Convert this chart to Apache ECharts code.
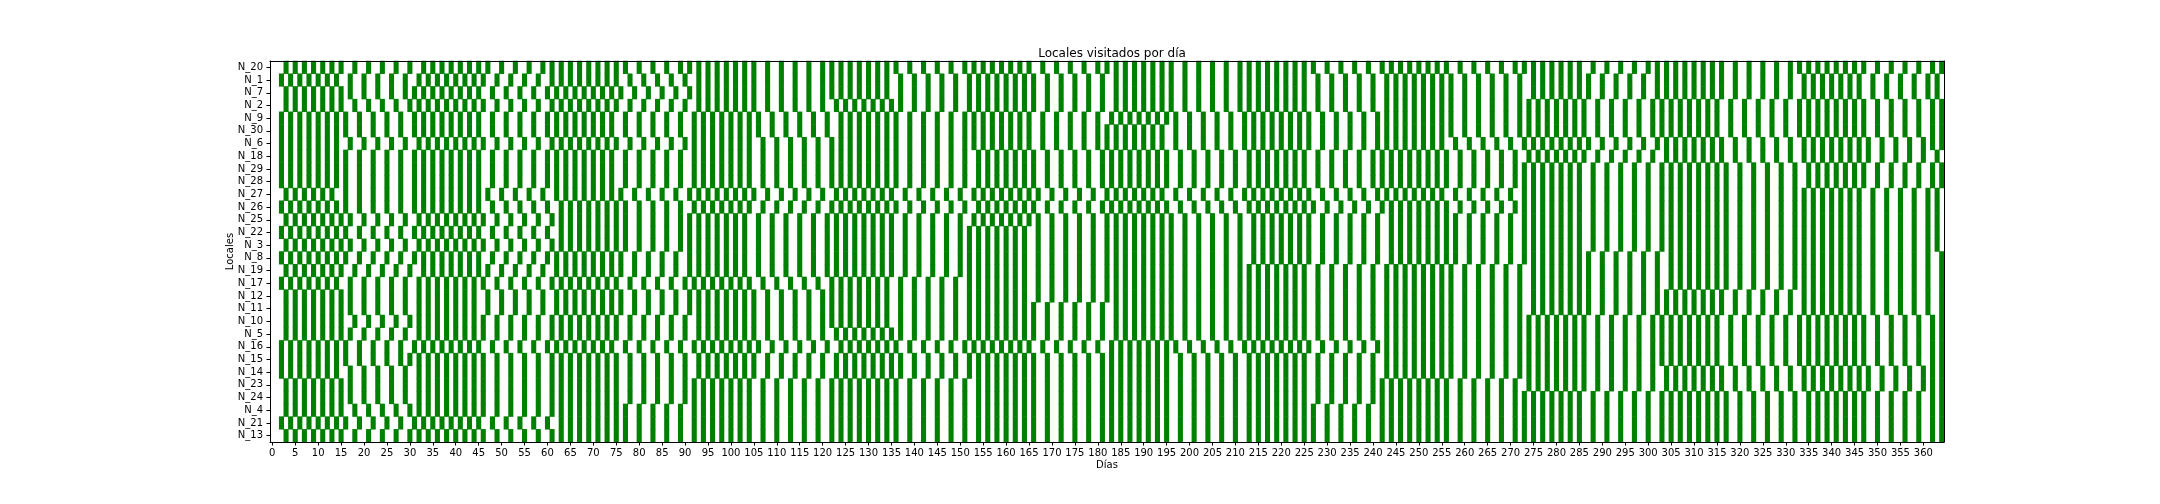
<!DOCTYPE html>
<html><head><meta charset="utf-8">
<script src="https://cdn.jsdelivr.net/npm/echarts@6/dist/echarts.min.js"></script>
<style>html,body{margin:0;padding:0;background:#fff}#c{width:2160px;height:504px}</style>
</head><body><div id="c"></div>
<script>
const locales = ['N_20','N_1','N_7','N_2','N_9','N_30','N_6','N_18','N_29','N_28','N_27','N_26','N_25','N_22','N_3','N_8','N_19','N_17','N_12','N_11','N_10','N_5','N_16','N_15','N_14','N_23','N_24','N_4','N_21','N_13'];
const dayCount = 365;
const dayLabels = Array.from({length: dayCount}, (_, i) => String(i));

// visited days per locale
const N_20 = [3,5,7,9,11,13,15,18,21,24,27,30,33,35,37,39,41,43,45,47,50,53,56,59,61,63,65,67,69,71,73,75,77,80,83,86,89,91,93,95,97,99,101,103,105,108,111,114,117,120,122,124,126,128,130,132,134,136,139,142,145,148,151,153,155,157,159,161,163,165,168,171,174,177,180,182,184,186,188,190,192,194,196,199,202,205,208,211,213,215,217,219,221,223,225,227,230,233,236,239,242,244,246,248,250,252,254,256,259,262,265,268,271,273,275,277,279,281,283,285,288,291,294,297,300,302,304,306,308,310,312,314,316,319,322,325,328,331,333,335,337,339,341,343,345,347,350,353,356,359,362,364];
const N_1 = [2,4,6,8,10,12,14,17,20,23,26,29,32,34,36,38,40,42,44,46,49,52,55,58,61,63,65,67,69,71,73,75,78,81,84,87,90,93,95,97,99,101,103,105,108,111,114,117,120,122,124,126,128,130,132,134,137,140,143,146,149,152,154,156,158,160,162,164,166,169,172,175,178,181,184,186,188,190,192,194,196,199,202,205,208,211,213,215,217,219,221,223,225,228,231,234,237,240,243,245,247,249,251,253,255,257,260,263,266,269,272,275,277,279,281,283,285,287,290,293,296,299,302,304,306,308,310,312,314,316,319,322,325,328,331,334,336,338,340,342,344,346,349,352,355,358,361,363];
const N_7 = [3,5,7,9,11,13,15,17,20,23,26,29,31,33,35,37,39,41,43,45,48,51,54,57,60,62,64,66,68,70,72,74,76,79,82,85,88,91,93,95,97,99,101,103,105,108,111,114,117,120,122,124,126,128,130,132,134,137,140,143,146,149,152,154,156,158,160,162,164,166,169,172,175,178,181,184,186,188,190,192,194,196,199,202,205,208,211,213,215,217,219,221,223,225,228,231,234,237,240,243,245,247,249,251,253,255,257,260,263,266,269,272,275,277,279,281,283,285,287,290,293,296,299,302,304,306,308,310,312,314,316,319,322,325,328,331,334,336,338,340,342,344,346,349,352,355,358,361,363];
const N_2 = [3,5,7,9,11,13,15,18,21,24,27,30,32,34,36,38,40,42,44,46,49,52,55,58,61,63,65,67,69,71,73,75,78,81,84,87,90,93,95,97,99,101,103,105,108,111,114,117,120,123,125,127,129,131,133,135,137,140,143,146,149,152,154,156,158,160,162,164,166,169,172,175,178,181,184,186,188,190,192,194,196,199,202,205,208,211,213,215,217,219,221,223,225,228,231,234,237,240,243,245,247,249,251,253,255,257,260,263,266,269,272,274,276,278,280,282,284,286,289,292,295,298,301,303,305,307,309,311,313,315,318,321,324,327,330,333,335,337,339,341,343,345,347,350,353,356,359,362,364];
const N_9 = [2,4,6,8,10,12,14,16,19,22,25,28,31,33,35,37,39,41,43,45,48,51,54,57,60,62,64,66,68,70,72,74,77,80,83,86,89,92,94,96,98,100,102,104,106,109,112,115,118,121,124,126,128,130,132,134,136,139,142,145,148,151,153,155,157,159,161,163,165,168,171,174,177,180,183,185,187,189,191,193,195,197,200,203,206,209,212,214,216,218,220,222,224,226,229,232,235,238,241,243,245,247,249,251,253,255,257,260,263,266,269,272,274,276,278,280,282,284,286,289,292,295,298,301,303,305,307,309,311,313,315,318,321,324,327,330,333,335,337,339,341,343,345,347,350,353,356,359,362,364];
const N_30 = [2,4,6,8,10,12,14,16,19,22,25,28,31,33,35,37,39,41,43,45,48,51,54,57,60,62,64,66,68,70,72,74,77,80,83,86,89,92,94,96,98,100,102,104,106,109,112,115,118,121,124,126,128,130,132,134,136,139,142,145,148,151,153,155,157,159,161,163,165,168,171,174,177,180,182,184,186,188,190,192,194,197,200,203,206,209,212,214,216,218,220,222,224,226,229,232,235,238,241,243,245,247,249,251,253,255,257,260,263,266,269,272,274,276,278,280,282,284,286,289,292,295,298,301,303,305,307,309,311,313,315,318,321,324,327,330,333,335,337,339,341,343,345,347,350,353,356,359,362,364];
const N_6 = [2,4,6,8,10,12,14,17,20,23,26,29,32,34,36,38,40,42,44,46,49,52,55,58,61,63,65,67,69,71,73,75,78,81,84,87,90,92,94,96,98,100,102,104,107,110,113,116,119,122,124,126,128,130,132,134,136,139,142,145,148,151,153,155,157,159,161,163,165,168,171,174,177,180,182,184,186,188,190,192,194,197,200,203,206,209,212,214,216,218,220,222,224,226,229,232,235,238,241,243,245,247,249,251,253,255,258,261,264,267,270,273,275,277,279,281,283,285,287,290,293,296,299,302,304,306,308,310,312,314,316,319,322,325,328,331,334,336,338,340,342,344,346,348,351,354,357,360,362,364];
const N_18 = [2,4,6,8,10,12,14,16,19,22,25,28,31,33,35,37,39,41,43,45,48,51,54,57,60,62,64,66,68,70,72,74,77,80,83,86,89,92,94,96,98,100,102,104,107,110,113,116,119,122,124,126,128,130,132,134,136,139,142,145,148,151,154,156,158,160,162,164,166,169,172,175,178,181,183,185,187,189,191,193,195,198,201,204,207,210,213,215,217,219,221,223,225,228,231,234,237,240,242,244,246,248,250,252,254,256,259,262,265,268,271,274,276,278,280,282,284,286,289,292,295,298,301,304,306,308,310,312,314,316,319,322,325,328,331,334,336,338,340,342,344,346,348,351,354,357,360,363];
const N_29 = [2,4,6,8,10,12,14,16,19,22,25,28,31,33,35,37,39,41,43,45,48,51,54,57,60,62,64,66,68,70,72,74,77,80,83,86,89,92,94,96,98,100,102,104,107,110,113,116,119,122,124,126,128,130,132,134,136,139,142,145,148,151,154,156,158,160,162,164,166,169,172,175,178,181,183,185,187,189,191,193,195,198,201,204,207,210,213,215,217,219,221,223,225,228,231,234,237,240,242,244,246,248,250,252,254,256,259,262,265,268,271,273,275,277,279,281,283,285,288,291,294,297,300,303,305,307,309,311,313,315,317,320,323,326,329,332,335,337,339,341,343,345,347,350,353,356,359,362,364];
const N_28 = [2,4,6,8,10,12,14,16,19,22,25,28,31,33,35,37,39,41,43,45,48,51,54,57,60,62,64,66,68,70,72,74,77,80,83,86,89,92,94,96,98,100,102,104,107,110,113,116,119,122,124,126,128,130,132,134,136,139,142,145,148,151,154,156,158,160,162,164,166,169,172,175,178,181,183,185,187,189,191,193,195,198,201,204,207,210,213,215,217,219,221,223,225,228,231,234,237,240,242,244,246,248,250,252,254,256,259,262,265,268,271,273,275,277,279,281,283,285,288,291,294,297,300,303,305,307,309,311,313,315,317,320,323,326,329,332,335,337,339,341,343,345,347,350,353,356,359,362,364];
const N_27 = [3,5,7,9,11,13,16,19,22,25,28,31,33,35,37,39,41,43,45,47,50,53,56,59,62,64,66,68,70,72,74,76,79,82,85,88,91,93,95,97,99,101,103,105,108,111,114,117,120,123,125,127,129,131,133,135,138,141,144,147,150,153,155,157,159,161,163,165,167,170,173,176,179,182,184,186,188,190,192,194,197,200,203,206,209,212,214,216,218,220,222,224,226,229,232,235,238,241,243,245,247,249,251,253,255,258,261,264,267,270,273,275,277,279,281,283,285,288,291,294,297,300,303,305,307,309,311,313,315,317,320,323,326,329,332,334,336,338,340,342,344,346,349,352,355,358,361,363];
const N_26 = [2,4,6,8,10,12,14,16,19,22,25,28,31,33,35,37,39,41,43,45,48,51,54,57,60,63,65,67,69,71,73,75,77,80,83,86,89,92,94,96,98,100,102,104,107,110,113,116,119,122,124,126,128,130,132,134,136,139,142,145,148,151,154,156,158,160,162,164,166,169,172,175,178,181,183,185,187,189,191,193,195,198,201,204,207,210,213,215,217,219,221,223,225,227,230,233,236,239,242,244,246,248,250,252,254,256,259,262,265,268,271,273,275,277,279,281,283,285,288,291,294,297,300,303,305,307,309,311,313,315,317,320,323,326,329,332,334,336,338,340,342,344,346,349,352,355,358,361,363];
const N_25 = [3,5,7,9,11,13,15,17,20,23,26,29,32,34,36,38,40,42,44,46,49,52,55,58,61,63,65,67,69,71,73,75,77,80,83,86,89,91,93,95,97,99,101,103,106,109,112,115,118,121,123,125,127,129,131,133,135,138,141,144,147,150,153,155,157,159,161,163,165,167,170,173,176,179,182,184,186,188,190,192,194,196,199,202,205,208,211,214,216,218,220,222,224,226,229,232,235,238,241,244,246,248,250,252,254,256,258,261,264,267,270,273,275,277,279,281,283,285,288,291,294,297,300,303,305,307,309,311,313,315,317,320,323,326,329,332,334,336,338,340,342,344,346,349,352,355,358,361,363];
const N_22 = [2,4,6,8,10,12,14,16,19,22,25,28,31,33,35,37,39,41,43,45,48,51,54,57,60,63,65,67,69,71,73,75,77,80,83,86,89,91,93,95,97,99,101,103,106,109,112,115,118,121,123,125,127,129,131,133,135,138,141,144,147,150,152,154,156,158,160,162,164,167,170,173,176,179,182,184,186,188,190,192,194,196,199,202,205,208,211,214,216,218,220,222,224,226,229,232,235,238,241,244,246,248,250,252,254,256,258,261,264,267,270,273,275,277,279,281,283,285,288,291,294,297,300,303,305,307,309,311,313,315,317,320,323,326,329,332,334,336,338,340,342,344,346,349,352,355,358,361,363];
const N_3 = [3,5,7,9,11,13,15,17,20,23,26,29,32,34,36,38,40,42,44,46,49,52,55,58,61,63,65,67,69,71,73,75,77,80,83,86,89,91,93,95,97,99,101,103,106,109,112,115,118,121,123,125,127,129,131,133,135,138,141,144,147,150,152,154,156,158,160,162,164,167,170,173,176,179,182,184,186,188,190,192,194,196,199,202,205,208,211,214,216,218,220,222,224,226,229,232,235,238,241,244,246,248,250,252,254,256,258,261,264,267,270,273,275,277,279,281,283,285,288,291,294,297,300,303,305,307,309,311,313,315,317,320,323,326,329,332,334,336,338,340,342,344,346,349,352,355,358,361,363];
const N_8 = [2,4,6,8,10,12,14,16,19,22,25,28,31,33,35,37,39,41,43,45,48,51,54,57,60,62,64,66,68,70,72,74,76,79,82,85,88,91,93,95,97,99,101,103,106,109,112,115,118,121,123,125,127,129,131,133,135,138,141,144,147,150,152,154,156,158,160,162,164,167,170,173,176,179,182,184,186,188,190,192,194,196,199,202,205,208,211,214,216,218,220,222,224,226,229,232,235,238,241,244,246,248,250,252,254,256,258,261,264,267,270,273,275,277,279,281,283,285,287,290,293,296,299,302,305,307,309,311,313,315,317,320,323,326,329,332,334,336,338,340,342,344,346,349,352,355,358,361,364];
const N_19 = [3,5,7,9,11,13,15,18,21,24,27,30,33,35,37,39,41,43,45,47,50,53,56,59,62,64,66,68,70,72,74,76,79,82,85,88,91,93,95,97,99,101,103,106,109,112,115,118,121,123,125,127,129,131,133,135,138,141,144,147,150,152,154,156,158,160,162,164,167,170,173,176,179,182,184,186,188,190,192,194,196,199,202,205,208,211,213,215,217,219,221,223,225,228,231,234,237,240,243,245,247,249,251,253,255,257,260,263,266,269,272,275,277,279,281,283,285,287,290,293,296,299,302,305,307,309,311,313,315,317,320,323,326,329,332,334,336,338,340,342,344,346,349,352,355,358,361,364];
const N_17 = [2,4,6,8,10,12,14,17,20,23,26,29,32,34,36,38,40,42,44,46,49,52,55,58,61,63,65,67,69,71,73,75,78,81,84,87,90,92,94,96,98,100,102,104,107,110,113,116,119,122,124,126,128,130,132,134,137,140,143,146,149,152,154,156,158,160,162,164,167,170,173,176,179,182,184,186,188,190,192,194,196,199,202,205,208,211,213,215,217,219,221,223,225,228,231,234,237,240,243,245,247,249,251,253,255,257,260,263,266,269,272,275,277,279,281,283,285,287,290,293,296,299,302,305,307,309,311,313,315,317,320,323,326,329,332,334,336,338,340,342,344,346,349,352,355,358,361,364];
const N_12 = [3,5,7,9,11,13,15,17,20,23,26,29,32,34,36,38,40,42,44,47,50,53,56,59,62,64,66,68,70,72,74,76,79,82,85,88,91,93,95,97,99,101,103,105,108,111,114,117,120,122,124,126,128,130,132,134,137,140,143,146,149,152,154,156,158,160,162,164,167,170,173,176,179,182,184,186,188,190,192,194,196,199,202,205,208,211,213,215,217,219,221,223,225,228,231,234,237,240,243,245,247,249,251,253,255,257,260,263,266,269,272,275,277,279,281,283,285,287,290,293,296,299,302,304,306,308,310,312,314,316,319,322,325,328,331,334,336,338,340,342,344,346,349,352,355,358,361,364];
const N_11 = [3,5,7,9,11,13,15,17,20,23,26,29,32,34,36,38,40,42,44,47,50,53,56,59,62,64,66,68,70,72,74,76,79,82,85,88,91,93,95,97,99,101,103,105,108,111,114,117,120,122,124,126,128,130,132,134,137,140,143,146,149,152,154,156,158,160,162,164,166,169,172,175,178,181,184,186,188,190,192,194,196,199,202,205,208,211,213,215,217,219,221,223,225,228,231,234,237,240,243,245,247,249,251,253,255,257,260,263,266,269,272,275,277,279,281,283,285,287,290,293,296,299,302,304,306,308,310,312,314,316,319,322,325,328,331,334,336,338,340,342,344,346,349,352,355,358,361,364];
const N_10 = [3,5,7,9,11,13,15,18,21,24,27,30,32,34,36,38,40,42,44,46,49,52,55,58,61,63,65,67,69,71,73,75,78,81,84,87,90,93,95,97,99,101,103,105,108,111,114,117,120,122,124,126,128,130,132,134,137,140,143,146,149,152,154,156,158,160,162,164,166,169,172,175,178,181,184,186,188,190,192,194,196,199,202,205,208,211,213,215,217,219,221,223,225,228,231,234,237,240,243,245,247,249,251,253,255,257,260,263,266,269,272,274,276,278,280,282,284,286,289,292,295,298,301,303,305,307,309,311,313,315,318,321,324,327,330,333,335,337,339,341,343,345,347,350,353,356,359,362,364];
const N_5 = [3,5,7,9,11,13,15,17,20,23,26,29,32,34,36,38,40,42,44,46,49,52,55,58,61,63,65,67,69,71,73,75,78,81,84,87,90,93,95,97,99,101,103,105,108,111,114,117,120,123,125,127,129,131,133,135,137,140,143,146,149,152,154,156,158,160,162,164,166,169,172,175,178,181,184,186,188,190,192,194,196,199,202,205,208,211,213,215,217,219,221,223,225,228,231,234,237,240,243,245,247,249,251,253,255,257,260,263,266,269,272,274,276,278,280,282,284,286,289,292,295,298,301,303,305,307,309,311,313,315,318,321,324,327,330,333,335,337,339,341,343,345,347,350,353,356,359,362,364];
const N_16 = [2,4,6,8,10,12,14,16,19,22,25,28,31,33,35,37,39,41,43,45,48,51,54,57,60,62,64,66,68,70,72,74,77,80,83,86,89,92,94,96,98,100,102,104,106,109,112,115,118,121,124,126,128,130,132,134,136,139,142,145,148,151,153,155,157,159,161,163,165,168,171,174,177,180,183,185,187,189,191,193,195,197,200,203,206,209,212,214,216,218,220,222,224,226,229,232,235,238,241,243,245,247,249,251,253,255,257,260,263,266,269,272,274,276,278,280,282,284,286,289,292,295,298,301,303,305,307,309,311,313,315,318,321,324,327,330,333,335,337,339,341,343,345,347,350,353,356,359,362,364];
const N_15 = [2,4,6,8,10,12,14,16,19,22,25,28,30,32,34,36,38,40,42,44,46,49,52,55,58,61,63,65,67,69,71,73,75,78,81,84,87,90,93,95,97,99,101,103,105,108,111,114,117,120,123,125,127,129,131,133,135,137,140,143,146,149,152,154,156,158,160,162,164,166,169,172,175,178,181,183,185,187,189,191,193,195,198,201,204,207,210,213,215,217,219,221,223,225,228,231,234,237,240,243,245,247,249,251,253,255,257,260,263,266,269,272,274,276,278,280,282,284,286,289,292,295,298,301,303,305,307,309,311,313,315,318,321,324,327,330,333,335,337,339,341,343,345,347,350,353,356,359,362,364];
const N_14 = [2,4,6,8,10,12,14,17,20,23,26,29,32,34,36,38,40,42,44,46,49,52,55,58,61,63,65,67,69,71,73,75,78,81,84,87,90,93,95,97,99,101,103,105,108,111,114,117,120,123,125,127,129,131,133,135,137,140,143,146,149,152,154,156,158,160,162,164,166,169,172,175,178,181,183,185,187,189,191,193,195,198,201,204,207,210,213,215,217,219,221,223,225,228,231,234,237,240,243,245,247,249,251,253,255,257,260,263,266,269,272,274,276,278,280,282,284,286,289,292,295,298,301,304,306,308,310,312,314,316,319,322,325,328,331,334,336,338,340,342,344,346,348,351,354,357,360,362,364];
const N_23 = [3,5,7,9,11,13,15,17,20,23,26,29,32,34,36,38,40,42,44,46,49,52,55,58,61,63,65,67,69,71,73,75,78,81,84,87,90,92,94,96,98,100,102,104,107,110,113,116,119,122,124,126,128,130,132,134,136,139,142,145,148,151,154,156,158,160,162,164,166,169,172,175,178,181,183,185,187,189,191,193,195,198,201,204,207,210,213,215,217,219,221,223,225,228,231,234,237,240,242,244,246,248,250,252,254,256,259,262,265,268,271,274,276,278,280,282,284,286,289,292,295,298,301,304,306,308,310,312,314,316,319,322,325,328,331,334,336,338,340,342,344,346,348,351,354,357,360,362,364];
const N_24 = [3,5,7,9,11,13,15,17,20,23,26,29,32,34,36,38,40,42,44,46,49,52,55,58,61,63,65,67,69,71,73,75,78,81,84,87,90,92,94,96,98,100,102,104,107,110,113,116,119,122,124,126,128,130,132,134,136,139,142,145,148,151,154,156,158,160,162,164,166,169,172,175,178,181,183,185,187,189,191,193,195,198,201,204,207,210,213,215,217,219,221,223,225,228,231,234,237,240,242,244,246,248,250,252,254,256,259,262,265,268,271,273,275,277,279,281,283,285,288,291,294,297,300,303,305,307,309,311,313,315,317,320,323,326,329,332,335,337,339,341,343,345,347,350,353,356,359,362,364];
const N_4 = [3,5,7,9,11,13,15,18,21,24,27,30,32,34,36,38,40,42,44,46,49,52,55,58,61,63,65,67,69,71,73,75,77,80,83,86,89,92,94,96,98,100,102,104,107,110,113,116,119,122,124,126,128,130,132,134,136,139,142,145,148,151,154,156,158,160,162,164,166,169,172,175,178,181,183,185,187,189,191,193,195,198,201,204,207,210,213,215,217,219,221,223,225,227,230,233,236,239,242,244,246,248,250,252,254,256,259,262,265,268,271,273,275,277,279,281,283,285,288,291,294,297,300,303,305,307,309,311,313,315,317,320,323,326,329,332,335,337,339,341,343,345,347,350,353,356,359,362,364];
const N_21 = [2,4,6,8,10,12,14,16,19,22,25,28,31,33,35,37,39,41,43,45,48,51,54,57,60,63,65,67,69,71,73,75,77,80,83,86,89,92,94,96,98,100,102,104,107,110,113,116,119,122,124,126,128,130,132,134,136,139,142,145,148,151,154,156,158,160,162,164,166,169,172,175,178,181,183,185,187,189,191,193,195,198,201,204,207,210,213,215,217,219,221,223,225,227,230,233,236,239,242,244,246,248,250,252,254,256,259,262,265,268,271,273,275,277,279,281,283,285,288,291,294,297,300,303,305,307,309,311,313,315,317,320,323,326,329,332,335,337,339,341,343,345,347,350,353,356,359,362,364];
const N_13 = [3,5,7,9,11,13,15,18,21,24,27,30,32,34,36,38,40,42,44,46,49,52,55,58,61,63,65,67,69,71,73,75,77,80,83,86,89,92,94,96,98,100,102,104,107,110,113,116,119,122,124,126,128,130,132,134,136,139,142,145,148,151,154,156,158,160,162,164,166,169,172,175,178,181,183,185,187,189,191,193,195,198,201,204,207,210,213,215,217,219,221,223,225,227,230,233,236,239,242,244,246,248,250,252,254,256,259,262,265,268,271,273,275,277,279,281,283,285,288,291,294,297,300,303,305,307,309,311,313,315,317,320,323,326,329,332,335,337,339,341,343,345,347,350,353,356,359,362,364];

const visitRows = [N_20,N_1,N_7,N_2,N_9,N_30,N_6,N_18,N_29,N_28,N_27,N_26,N_25,N_22,N_3,N_8,N_19,N_17,N_12,N_11,N_10,N_5,N_16,N_15,N_14,N_23,N_24,N_4,N_21,N_13];

const cells = [];
visitRows.forEach((days, r) => days.forEach(d => cells.push([d, r, 1])));

const FONT = 'DejaVu Sans';
const chart = echarts.init(document.getElementById('c'), null, {renderer: 'canvas'});
chart.setOption({
  animation: false,
  backgroundColor: '#fff',
  textStyle: {fontFamily: FONT},
  title: {
    text: 'Locales visitados por día',
    left: 1107, top: 43, textAlign: 'center',
    textStyle: {fontFamily: FONT, fontSize: 12, fontWeight: 'normal', color: '#000'}
  },
  grid: {left: 270, right: 216, top: 61, bottom: 62, containLabel: false, outerBoundsMode: 'none'},
  xAxis: [{
    type: 'category', data: dayLabels, position: 'bottom', z: 10,
    name: 'Días', nameLocation: 'middle', nameGap: 18, nameMoveOverlap: false,
    nameTextStyle: {fontFamily: FONT, fontSize: 10, color: '#000'},
    axisLine: {show: true, lineStyle: {color: '#000', width: 1}},
    axisTick: {show: true, interval: 4, alignWithLabel: true, length: 3.5, lineStyle: {color: '#000', width: 1}},
    axisLabel: {interval: 4, fontFamily: FONT, fontSize: 10, color: '#000', margin: 6},
    splitLine: {show: false}
  }, {
    type: 'category', data: dayLabels, position: 'top', z: 10,
    axisLine: {show: true, lineStyle: {color: '#000', width: 1}},
    axisTick: {show: false}, axisLabel: {show: false}, splitLine: {show: false}
  }],
  yAxis: [{
    type: 'category', data: locales, inverse: true, position: 'left', z: 10,
    name: 'Locales', nameLocation: 'middle', nameGap: 35, nameRotate: 90, nameMoveOverlap: false,
    nameTextStyle: {fontFamily: FONT, fontSize: 10, color: '#000'},
    axisLine: {show: true, lineStyle: {color: '#000', width: 1}},
    axisTick: {show: true, interval: 0, alignWithLabel: true, length: 3.5, lineStyle: {color: '#000', width: 1}},
    axisLabel: {interval: 0, fontFamily: FONT, fontSize: 10, color: '#000', margin: 7},
    splitLine: {show: false}
  }, {
    type: 'category', data: locales, inverse: true, position: 'right', z: 10,
    axisLine: {show: true, lineStyle: {color: '#000', width: 1}},
    axisTick: {show: false}, axisLabel: {show: false}, splitLine: {show: false}
  }],
  visualMap: {show: false, type: 'piecewise', dimension: 2, seriesIndex: 0, pieces: [{value: 1, color: '#008000'}]},
  series: [{
    type: 'heatmap', xAxisIndex: 0, yAxisIndex: 0, data: cells,
    progressive: 0, itemStyle: {borderWidth: 0}, emphasis: {disabled: true}
  }]
});
</script></body></html>
